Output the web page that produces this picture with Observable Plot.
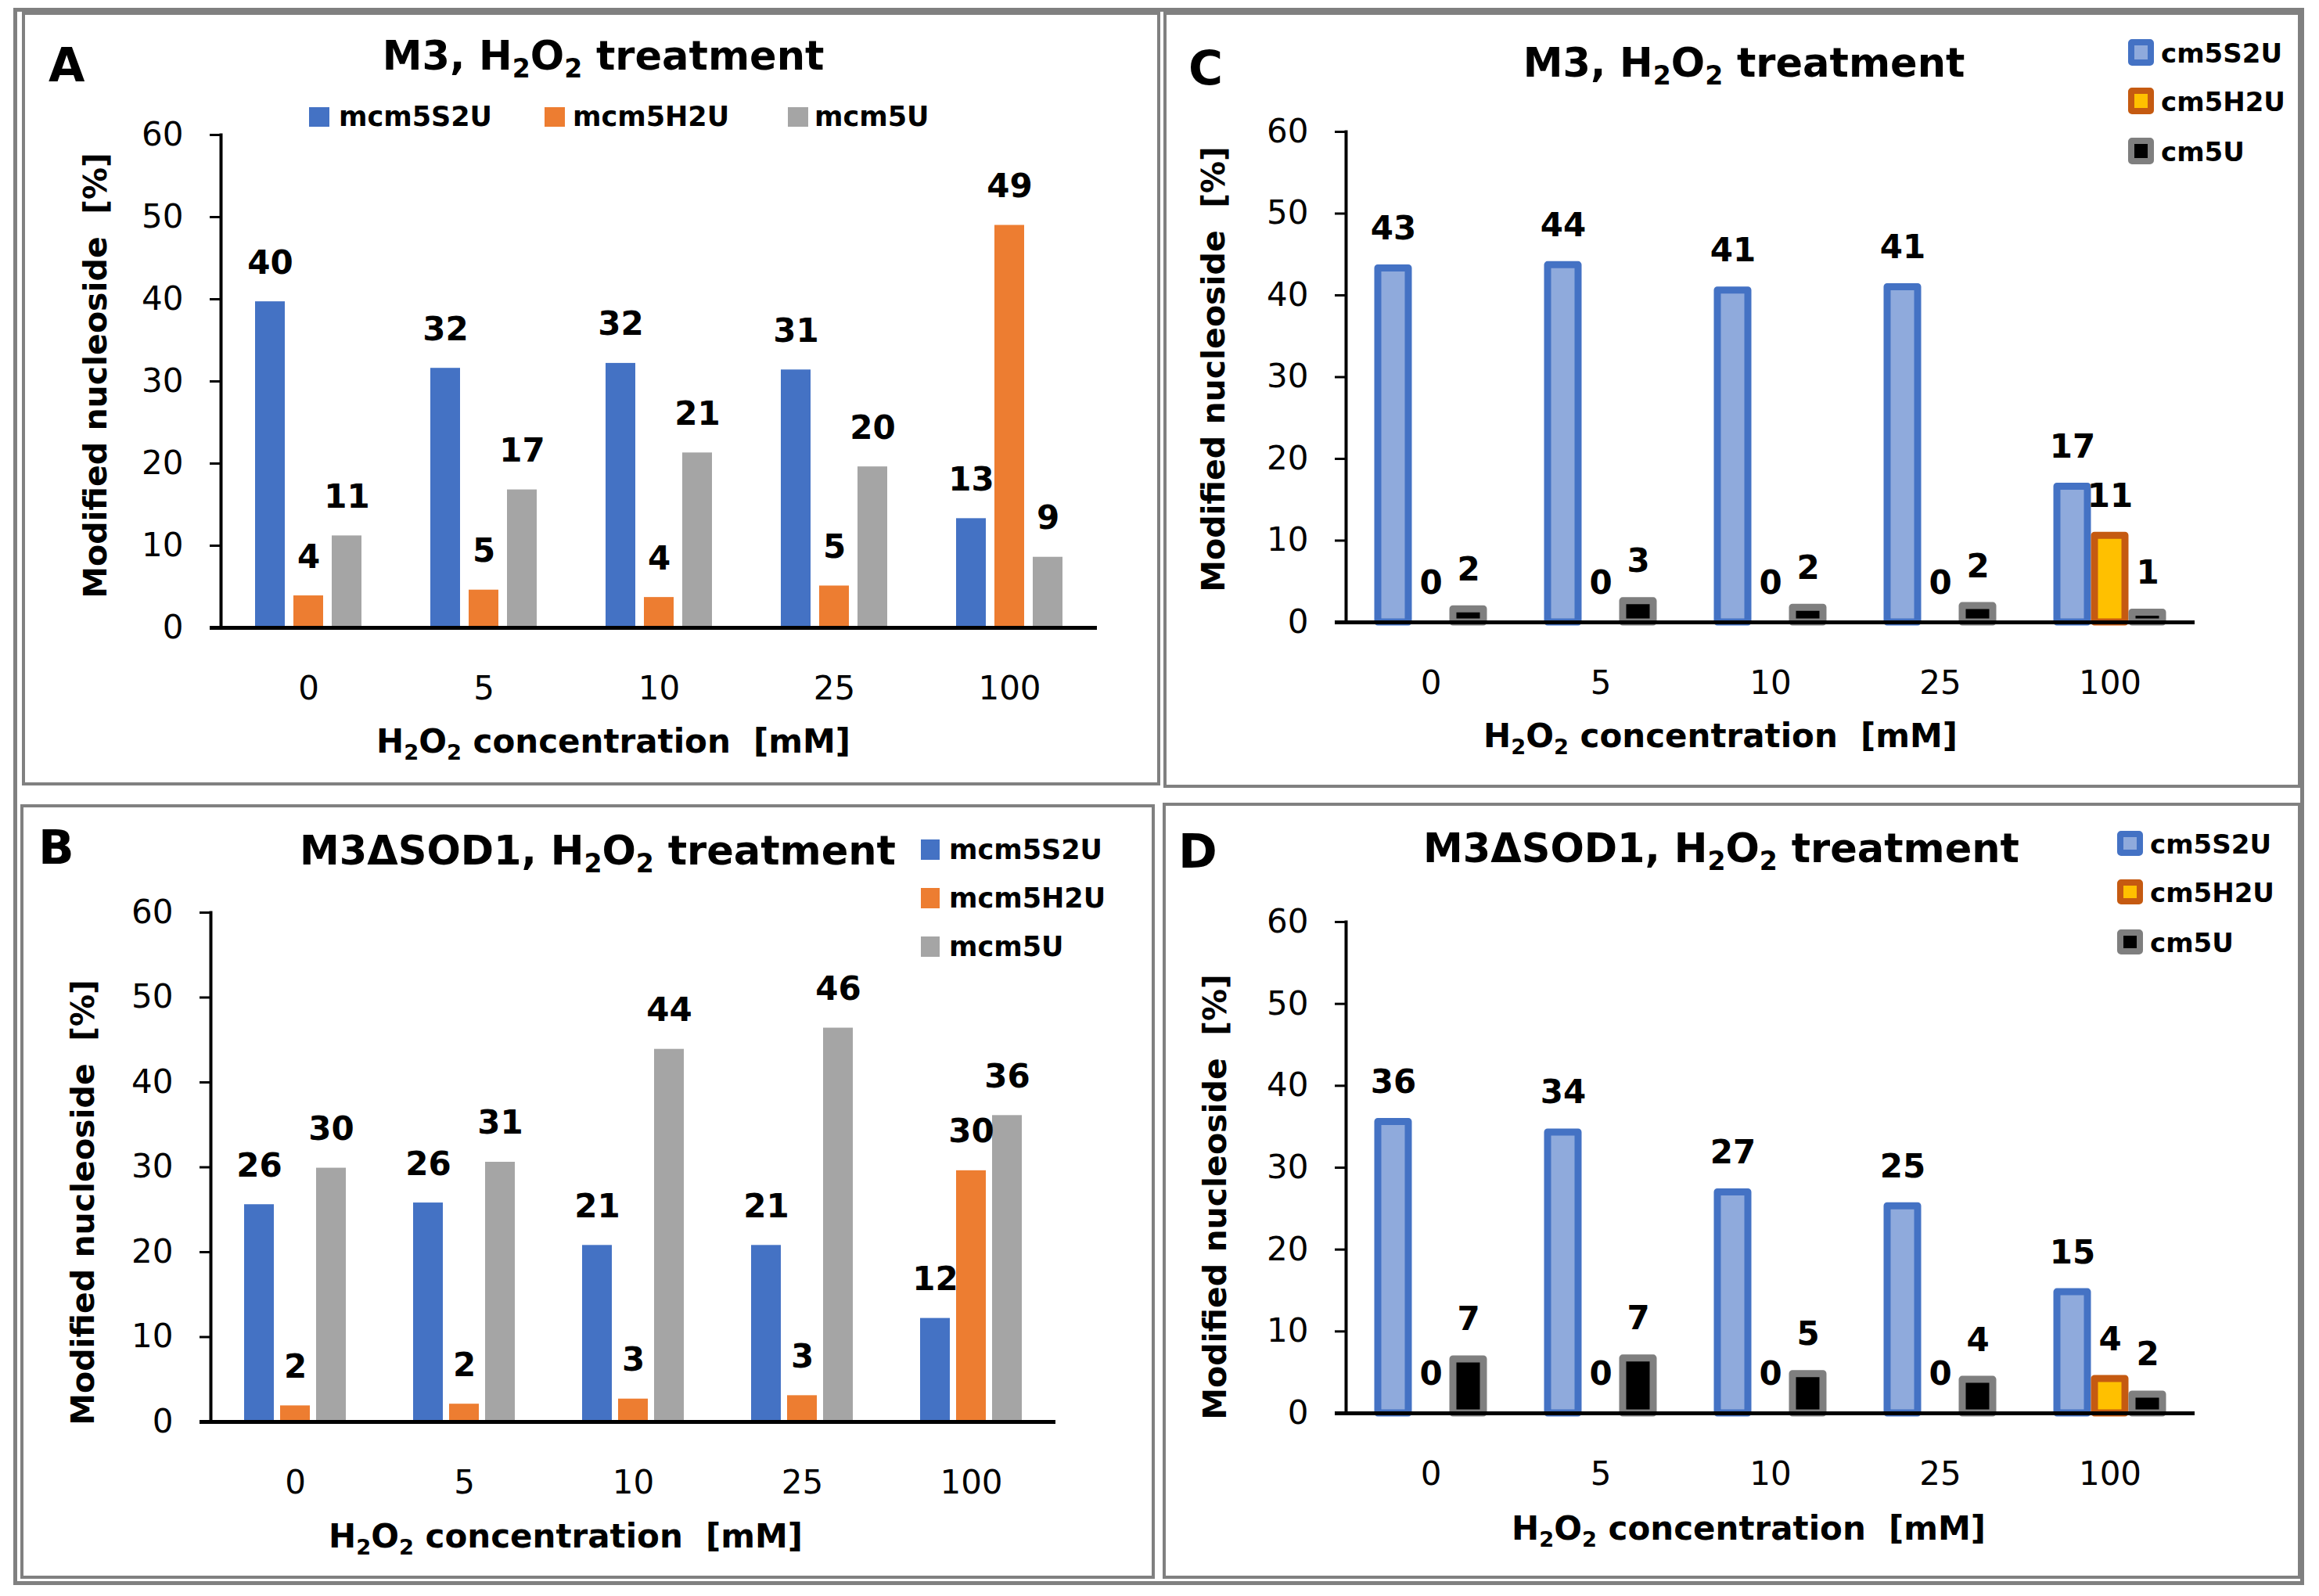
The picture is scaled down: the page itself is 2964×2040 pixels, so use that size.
<!DOCTYPE html>
<html><head><meta charset="utf-8">
<script src="https://cdn.jsdelivr.net/npm/d3@7"></script>
<script src="https://cdn.jsdelivr.net/npm/@observablehq/plot@0.6"></script>
<style>
html,body{margin:0;padding:0;background:#fff;}
#page{position:relative;width:2964px;height:2040px;overflow:hidden;font-family:"DejaVu Sans",sans-serif;color:#000;background:#fff;}
.box{position:absolute;box-sizing:border-box;border:4px solid #808080;}
.t{position:absolute;white-space:pre;line-height:1;}
.sub{font-size:0.65em;position:relative;top:0.3em;}
.sw{position:absolute;box-sizing:border-box;}
.plotwrap{position:absolute;}
</style></head><body><div id="page"></div>
<script>
// ---------- data ----------
const concs = ["0", "5", "10", "25", "100"];
const seriesAB = ["mcm5S2U", "mcm5H2U", "mcm5U"];
const seriesCD = ["cm5S2U", "cm5H2U", "cm5U"];
const yTicks = [0, 10, 20, 30, 40, 50, 60];

// Panel A: M3, H2O2 treatment
const aMcm5S2U = [39.7, 31.6, 32.2, 31.4, 13.3];
const aMcm5H2U = [3.9, 4.6, 3.7, 5.1, 49.0];
const aMcm5U   = [11.2, 16.8, 21.3, 19.6, 8.6];
// Panel B: M3ΔSOD1, H2O2 treatment
const bMcm5S2U = [25.6, 25.8, 20.8, 20.8, 12.2];
const bMcm5H2U = [1.9, 2.1, 2.7, 3.1, 29.6];
const bMcm5U   = [29.9, 30.6, 43.9, 46.4, 36.1];
// Panel C: M3, H2O2 treatment
const cCm5S2U = [43.3, 43.7, 40.6, 41.0, 16.6];
const cCm5H2U = [0, 0, 0, 0, 10.6];
const cCm5U   = [1.6, 2.6, 1.8, 2.0, 1.2];
// Panel D: M3ΔSOD1, H2O2 treatment
const dCm5S2U = [35.6, 34.3, 27.0, 25.3, 14.8];
const dCm5H2U = [0, 0, 0, 0, 4.2];
const dCm5U   = [6.6, 6.7, 4.8, 4.1, 2.3];

// ---------- helpers ----------
const page = document.getElementById("page");
const FONT = '"DejaVu Sans", sans-serif';
function add(html, style, cls = "t") {
  const el = document.createElement("div");
  el.className = cls;
  el.innerHTML = html;
  Object.assign(el.style, style);
  page.appendChild(el);
  return el;
}
// place text by baseline (DejaVu Sans, line-height 1 -> baseline at 0.846em)
function textAt(html, {x, baseline, size, weight = "bold", align = "left"}) {
  const top = baseline - 0.846 * size;
  const st = {top: top + "px", fontSize: size + "px", fontWeight: weight};
  if (align === "center") { st.left = x + "px"; st.transform = "translateX(-50%)"; }
  else st.left = x + "px";
  return add(html, st);
}
const H2O2 = 'H<span class="sub">2</span>O<span class="sub">2</span>';

// ---------- frames ----------
add("", {left: "17px", top: "10px", width: "2928px", height: "2016px", border: "5px solid #808080"}, "box");
add("", {left: "28px", top: "15px", width: "1455px", height: "989px"}, "box");
add("", {left: "1487px", top: "15px", width: "1454px", height: "992px"}, "box");
add("", {left: "26px", top: "1028px", width: "1450px", height: "990px"}, "box");
add("", {left: "1486px", top: "1026px", width: "1455px", height: "992px"}, "box");

// ---------- panels ----------
const plainFill = {mcm5S2U: "#4472C4", mcm5H2U: "#ED7D31", mcm5U: "#A5A5A5"};
const cdFill = {cm5S2U: "#8FAADC", cm5H2U: "#FFC000", cm5U: "#000000"};
const cdStroke = {cm5S2U: "#4472C4", cm5H2U: "#C55A11", cm5U: "#7F7F7F"};

const panels = [
  {letter: "A", lx: 62, lb: 104, title: "M3, " + H2O2 + " treatment", tx: 771, tb: 89,
   series: seriesAB, values: [aMcm5S2U, aMcm5H2U, aMcm5U], fill: plainFill, stroke: null,
   axisX: 282, zeroY: 802, topY: 172, rightX: 1402, pi: 0.23, po: 0.878, dy: -36,
   ylab: [122, 480], xlab: [784, 963]},
  {letter: "C", lx: 1519, lb: 108, title: "M3, " + H2O2 + " treatment", tx: 2229, tb: 98,
   series: seriesCD, values: [cCm5S2U, cCm5H2U, cCm5U], fill: cdFill, stroke: cdStroke,
   axisX: 1719, zeroY: 795, topY: 168, rightX: 2805, pi: 0.196, po: 0.837, dy: -37,
   ylab: [1551, 472], xlab: [2199, 956]},
  {letter: "B", lx: 49, lb: 1104, title: "M3ΔSOD1, " + H2O2 + " treatment", tx: 764, tb: 1105,
   series: seriesAB, values: [bMcm5S2U, bMcm5H2U, bMcm5U], fill: plainFill, stroke: null,
   axisX: 268, zeroY: 1817, topY: 1166, rightX: 1349, pi: 0.18, po: 0.89, dy: -36,
   ylab: [106, 1537], xlab: [723, 1979]},
  {letter: "D", lx: 1506, lb: 1109, title: "M3ΔSOD1, " + H2O2 + " treatment", tx: 2200, tb: 1102,
   series: seriesCD, values: [dCm5S2U, dCm5H2U, dCm5U], fill: cdFill, stroke: cdStroke,
   axisX: 1719, zeroY: 1806, topY: 1178, rightX: 2805, pi: 0.196, po: 0.837, dy: -37,
   ylab: [1553, 1530], xlab: [2235, 1969]}
];

function makePlot(p) {
  const rows = [];
  concs.forEach((c, i) => p.series.forEach((s, j) => rows.push({conc: c, series: s, value: p.values[j][i]})));
  const ml = 140, mr = 14, mt = 40, mb = 110;
  const w = ml + (p.rightX - p.axisX) + mr;
  const h = mt + (p.zeroY - p.topY) + mb;
  const marks = [];
  p.series.forEach(s => {
    const opts = {fx: "conc", x: "series", y: "value", fill: p.fill[s]};
    if (p.stroke) { opts.stroke = p.stroke[s]; opts.strokeWidth = 9; opts.strokeLinejoin = "round"; }
    marks.push(Plot.barY(rows.filter(d => d.series === s && d.value > 0), opts));
  });
  marks.push(Plot.ruleY([0], {stroke: "black", strokeWidth: 5, insetLeft: -14}));
  marks.push(Plot.frame({anchor: "left", facetAnchor: "left", stroke: "black", strokeWidth: 4}));
  marks.push(Plot.text(rows, {fx: "conc", x: "series", y: "value", text: d => String(Math.round(d.value)),
    lineAnchor: "bottom", dy: p.dy, fontSize: 42, fontWeight: "bold", fill: "black"}));
  marks.push(Plot.axisY({ticks: yTicks, tickSize: 14, tickPadding: 34, fontSize: 42, strokeWidth: 3, label: null}));
  marks.push(Plot.axisFx({anchor: "bottom", tickSize: 0, tickPadding: 62, fontSize: 42, label: null}));
  const svg = Plot.plot({
    width: w, height: h, marginLeft: ml, marginRight: mr, marginTop: mt, marginBottom: mb,
    fx: {domain: concs, padding: 0},
    x: {domain: p.series, paddingInner: p.pi, paddingOuter: p.po, axis: null},
    y: {domain: [0, 60]},
    style: {fontFamily: FONT, background: "transparent", overflow: "visible", color: "black"},
    marks
  });
  const wrap = document.createElement("div");
  wrap.className = "plotwrap";
  wrap.style.left = (p.axisX - ml) + "px";
  wrap.style.top = (p.topY - mt) + "px";
  wrap.appendChild(svg);
  page.appendChild(wrap);
}

panels.forEach(p => {
  makePlot(p);
  textAt(p.letter, {x: p.lx, baseline: p.lb, size: 60});
  textAt(p.title, {x: p.tx, baseline: p.tb, size: 51, align: "center"});
  // y label
  add("Modified nucleoside  [%]", {left: p.ylab[0] + "px", top: p.ylab[1] + "px", fontSize: "41px", fontWeight: "bold",
    transform: "translate(-50%,-50%) rotate(-90deg)"});
  // x label
  textAt(H2O2 + " concentration  [mM]", {x: p.xlab[0], baseline: p.xlab[1], size: 42, align: "center"});
});

// ---------- legends ----------
function legendItem(s, fill, stroke, sx, cy, sw, sh, tx, size) {
  const st = {left: sx + "px", top: (cy - sh / 2) + "px", width: sw + "px", height: sh + "px", background: fill};
  if (stroke) { st.border = "8px solid " + stroke; st.borderRadius = "5px"; }
  add("", st, "sw");
  textAt(s, {x: tx, baseline: cy + 0.729 * size / 2, size});
}
// A: horizontal
[[395, 433], [696, 732], [1007, 1041]].forEach(([sx, tx], i) =>
  legendItem(seriesAB[i], plainFill[seriesAB[i]], null, sx, 149, 26, 25, tx, 35));
// B: vertical
[1086, 1148, 1210].forEach((cy, i) =>
  legendItem(seriesAB[i], plainFill[seriesAB[i]], null, 1177, cy, 24, 26, 1213, 35));
// C
[67, 129, 193].forEach((cy, i) =>
  legendItem(seriesCD[i], cdFill[seriesCD[i]], cdStroke[seriesCD[i]], 2720, cy, 33, 34, 2762, 34));
// D
[1078, 1140, 1204].forEach((cy, i) =>
  legendItem(seriesCD[i], cdFill[seriesCD[i]], cdStroke[seriesCD[i]], 2706, cy, 33, 32, 2748, 34));
</script>
</body></html>
